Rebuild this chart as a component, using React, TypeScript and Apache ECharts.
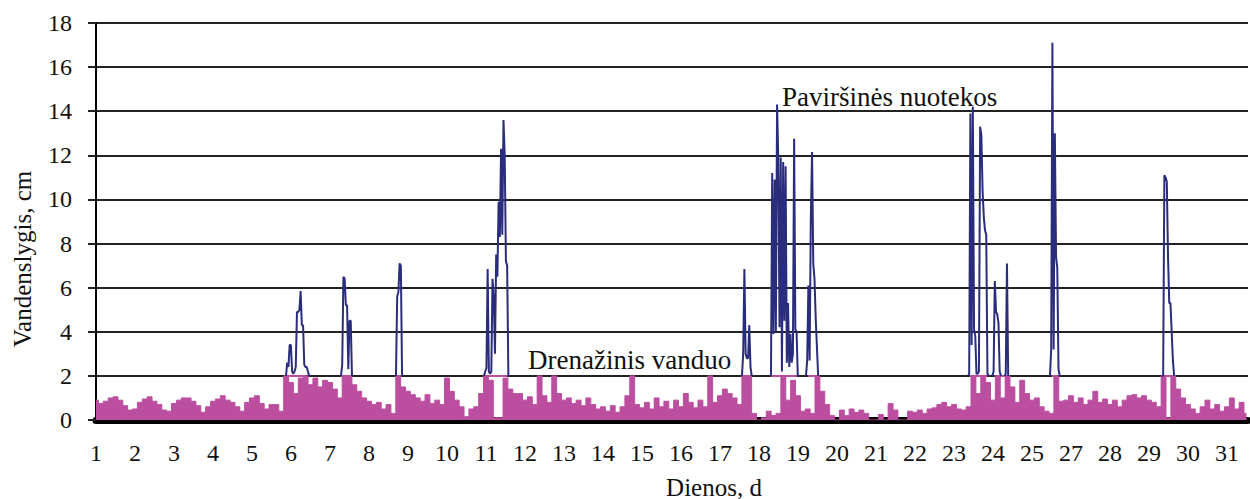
import React, { useEffect, useRef } from "react";
import * as echarts from "echarts";

// x axis: one unit per labelled day tick (labels are evenly spaced; "26" is absent in the source)
const xLabels = ["1","2","3","4","5","6","7","8","9","10","11","12","13","14","15","16","17","18","19","20","21","22","23","24","25","27","28","29","30","31"];
const yTicks = [0, 2, 4, 6, 8, 10, 12, 14, 16, 18];

// Drenažinis vanduo: filled envelope, one value every 1/8 of a day-tick
const DRAIN_STEP = 1 / 8;
const drainFill = [
  0.9,0.75,0.85,1.0,1.05,0.9,0.65,0.45,0.5,0.8,0.95,1.05,0.85,0.7,0.45,0.4,
  0.75,0.9,1.0,1.0,0.85,0.65,0.35,0.6,0.85,0.95,1.1,0.9,0.8,0.6,0.4,0.8,
  1.0,1.1,0.75,0.5,0.7,0.7,0.4,2.0,1.7,1.2,1.9,2.0,1.6,1.9,1.5,1.8,
  1.7,1.4,1.0,2.0,2.0,1.6,1.3,1.0,0.85,0.7,0.8,0.5,0.7,0.3,2.0,1.5,
  1.3,1.15,1.0,0.85,1.15,0.75,0.9,0.7,1.9,1.3,0.9,0.6,0.15,0.5,0.6,1.2,
  2.0,1.8,0.1,0.1,1.9,1.4,1.2,1.2,0.9,1.05,0.7,2.0,1.1,0.8,2.0,1.2,
  0.9,1.0,0.75,0.9,0.65,1.0,0.7,0.5,0.6,0.4,0.65,0.35,0.6,1.1,2.0,0.7,
  0.55,0.8,0.5,1.0,0.6,0.85,0.5,0.9,0.6,1.2,0.8,0.55,0.9,0.6,2.0,0.8,
  1.1,1.4,1.2,1.0,0.7,2.0,2.0,0.3,0.0,0.1,0.4,0.2,0.3,2.0,0.9,1.8,
  1.1,0.4,0.5,0.3,2.0,1.3,0.7,0.2,0.0,0.45,0.2,0.5,0.35,0.45,0.3,0.0,
  0.0,0.25,0.0,0.75,0.45,0.0,0.0,0.4,0.35,0.45,0.3,0.5,0.55,0.7,0.8,0.6,
  0.7,0.5,0.45,0.6,2.0,1.2,2.0,1.7,0.9,2.0,1.0,2.0,1.5,0.8,1.8,1.2,
  0.9,1.0,0.6,0.4,0.3,2.0,0.85,0.9,1.1,0.8,1.0,0.7,0.9,1.3,0.8,0.95,
  0.7,0.9,0.6,0.9,1.1,1.15,1.0,1.1,0.9,0.8,0.6,2.0,0.1,2.0,1.4,1.0,
  0.7,0.5,0.3,0.6,0.9,0.5,0.7,0.4,0.6,1.0,0.5,0.8,0.3
];
// periods where drainage stays at its 2 cm ceiling (start, end)
const drainCeilingStart = [4.90, 6.28, 7.72, 9.95, 16.56, 17.31, 18.26, 22.41, 23.05, 24.51, 27.36];
const drainCeilingEnd   = [5.38, 6.56, 7.82, 10.54, 16.77, 17.97, 18.49, 22.85, 23.38, 24.64, 27.69];
const DRAIN_CEILING = 2;

// Paviršinės nuotekos: runoff events, one value every 1/32 of a day-tick
const RUN_STEP = 1 / 32;
const runoffStarts = [4.872, 6.282, 7.692, 9.949, 16.564, 17.308, 18.205, 22.359, 22.985, 23.297, 24.462, 27.333];
const runoff1 = [2.0,2.6,2.4,3.4,3.4,2.2,2.1,2.2,2.4,4.9,4.9,5.0,5.85,4.3,4.3,2.5,2.4,2.4,2.2,2.0];
const runoff2 = [2.0,2.5,6.5,6.4,5.2,5.2,2.3,4.5,4.5,2.0];
const runoff3 = [2.0,5.6,5.8,7.1,7.0,2.0];
const runoff4 = [2.0,2.2,2.35,6.85,2.2,2.1,2.2,6.4,5.6,3.0,7.5,6.5,9.9,8.3,12.3,8.4,13.6,12.0,7.2,7.0,2.0];
const runoff5 = [2.0,3.0,6.85,3.0,2.8,2.8,4.3,2.4,2.0];
const runoff6 = [2.0,11.2,3.9,10.9,4.0,14.3,11.8,4.2,11.9,2.2,11.7,4.5,11.5,2.6,5.3,2.4,3.9,2.6,3.0,12.75,4.1,4.0,2.0];
const runoff7 = [2.0,2.7,6.1,2.7,9.2,12.15,7.1,6.4,4.6,3.3,2.0];
const runoff8 = [2.0,2.1,13.9,3.4,14.2,4.1,3.8,2.1,2.1,2.2,13.3,12.9,10.4,9.2,8.6,8.4,2.1,2.0];
const runoff9 = [2.0,2.2,6.3,4.9,4.8,4.4,2.2,2.0];
const runoff10 = [2.0,2.1,7.1,2.0];
const runoff11 = [2.0,3.2,17.1,3.2,13.0,7.4,6.9,2.3,2.0];
const runoff12 = [2.0,2.0,11.1,11.0,10.8,7.4,5.3,5.3,4.0,2.7,2.0];
const runoffEvents = [runoff1, runoff2, runoff3, runoff4, runoff5, runoff6, runoff7, runoff8, runoff9, runoff10, runoff11, runoff12];

const X_MAX = 29.54;
const MAGENTA = "#BB4E9F";
const NAVY = "#2A2D7C";
const FONT = "Liberation Serif";

export default function App() {
  const ref = useRef<HTMLDivElement>(null);
  useEffect(() => {
    if (!ref.current) return;
    const chart = echarts.init(ref.current, undefined, { renderer: "svg" });

    const fillData = drainFill.map((v, i) => [i * DRAIN_STEP, v]);
    const ceilData: any[] = [];
    drainCeilingStart.forEach((s, i) => {
      ceilData.push([s, DRAIN_CEILING], [drainCeilingEnd[i], DRAIN_CEILING], [drainCeilingEnd[i], "-"]);
    });
    const runData: any[] = [];
    runoffEvents.forEach((vals, e) => {
      vals.forEach((v, k) => runData.push([runoffStarts[e] + k * RUN_STEP, v]));
      runData.push([runoffStarts[e] + vals.length * RUN_STEP, "-"]);
    });

    const txt = (text: string, x: number, y: number, size: number, align: string, rotation = 0) => ({
      type: "text",
      x,
      y,
      rotation,
      style: { text, fontFamily: FONT, fontSize: size, fill: "#111", align, verticalAlign: "middle" },
    });

    chart.setOption({
      animation: false,
      backgroundColor: "#fff",
      textStyle: { fontFamily: FONT },
      grid: { left: 96, right: 2, top: 23, bottom: 79, containLabel: false },
      xAxis: {
        type: "value",
        min: 0,
        max: X_MAX,
        interval: 1,
        offset: 4,
        axisLine: { show: true, lineStyle: { color: "#000", width: 7 } },
        axisTick: { show: false },
        splitLine: { show: false },
        axisLabel: {
          margin: 17,
          fontFamily: FONT,
          fontSize: 24,
          color: "#111",
          showMaxLabel: false,
          formatter: (v: number) => xLabels[Math.round(v)] ?? "",
        },
      },
      yAxis: {
        type: "value",
        min: yTicks[0],
        max: yTicks[yTicks.length - 1],
        interval: 2,
        axisLine: { show: true, lineStyle: { color: "#000", width: 2 } },
        axisTick: { show: true, length: 8, lineStyle: { color: "#222", width: 2 } },
        splitLine: { show: true, lineStyle: { color: "#222", width: 2 } },
        axisLabel: { margin: 24, fontFamily: FONT, fontSize: 24, color: "#111" },
      },
      series: [
        {
          name: "Drenažinis vanduo",
          type: "line",
          step: "middle",
          data: fillData,
          symbol: "none",
          lineStyle: { color: MAGENTA, width: 1 },
          areaStyle: { color: MAGENTA, opacity: 1 },
          z: 2,
        },
        {
          name: "Drenažinis vanduo (riba)",
          type: "line",
          data: ceilData,
          symbol: "none",
          connectNulls: false,
          lineStyle: { color: MAGENTA, width: 2 },
          z: 3,
        },
        {
          name: "Paviršinės nuotekos",
          type: "line",
          data: runData,
          symbol: "none",
          connectNulls: false,
          lineStyle: { color: NAVY, width: 2 },
          z: 4,
        },
      ],
      graphic: [
        txt("Vandenslygis, cm", 22, 259, 25, "center", Math.PI / 2),
        txt("Dienos, d", 714, 487, 25, "center"),
        txt("Paviršinės nuotekos", 782, 97, 27, "left"),
        txt("Drenažinis vanduo", 528, 360, 27, "left"),
      ],
    });
    return () => chart.dispose();
  }, []);
  return <div ref={ref} style={{ position: "fixed", left: 0, top: 0, width: 1250, height: 499, background: "#fff" }} />;
}
